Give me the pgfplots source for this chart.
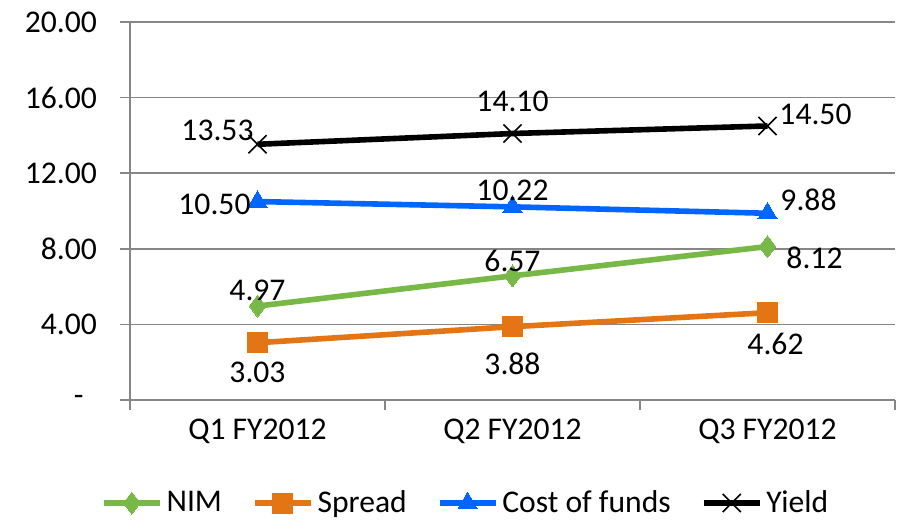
\documentclass[border=0pt]{standalone}
\usepackage{fontspec}
\setmainfont{Carlito}
\usepackage{pgfplots}
\pgfplotsset{compat=1.18}
\definecolor{nimg}{RGB}{119,184,70}
\definecolor{sprd}{RGB}{228,117,20}
\definecolor{cofb}{RGB}{0,102,255}
\definecolor{gridg}{RGB}{134,134,134}
\newcommand{\lf}{\fontsize{15.8}{18.5}\selectfont}
\begin{document}
\begin{tikzpicture}
\begin{axis}[
  name=ax,
  scale only axis,
  width=382.5pt, height=189pt,
  xmin=-0.5, xmax=2.5, ymin=0, ymax=20,
  axis x line*=bottom, axis y line*=left,
  axis line style={gridg, line width=0.75pt, -},
  ytick={0,4,8,12,16,20},
  yticklabels={{\makebox[11.5pt][l]{-}},{4.00},{8.00},{12.00},{16.00},{20.00}},
  ymajorgrids, grid style={gridg, line width=0.75pt},
  tick align=outside, major tick length=5pt,
  tick style={gridg, line width=0.75pt},
  xtick={-0.5,0.5,1.5,2.5}, xticklabels={},
  extra x ticks={0,1,2},
  extra x tick labels={Q1 FY2012,Q2 FY2012,Q3 FY2012},
  extra x tick style={major tick length=0pt, grid=none},
  tick label style={font=\lf},
  /pgf/number format/assume math mode=true,
  yticklabel style={anchor=east, xshift=-8pt},
  xticklabel style={anchor=north, yshift=-6pt},
  visualization depends on={\thisrow{dx} \as \dx},
  visualization depends on={\thisrow{dy} \as \dy},
  nodes near coords={\pgfplotspointmeta},
  point meta=explicit symbolic,
  nodes near coords style={font=\lf, text=black, anchor=center, xshift=\dx*0.5pt, yshift=\dy*0.5pt},
  legend columns=-1,
  legend style={at={(0.44,-0.2725)}, anchor=center, draw=none, font=\lf, inner xsep=0pt,
    /tikz/every even column/.append style={column sep=13pt}},
  legend image code/.code={\draw[mark repeat=2,mark phase=2,#1] plot coordinates {(0pt,0pt) (14pt,0pt) (28pt,0pt)};},
  every axis plot/.append style={line width=2.8pt},
]
\addplot[nimg, mark=diamond*, mark size=5.5pt, mark options={line width=0pt}]
  table[x=x, y=y, meta=lab] {
x y lab dx dy
0 4.97 4.97 0 16
1 6.57 6.57 0 15
2 8.12 8.12 47 -11
};
\addlegendentry{NIM}
\addplot[sprd, mark=square*, mark size=5pt, mark options={line width=0pt}]
  table[x=x, y=y, meta=lab] {
x y lab dx dy
0 3.03 3.03 0 -30
1 3.88 3.88 0 -37
2 4.62 4.62 8 -31
};
\addlegendentry{Spread}
\addplot[cofb, mark=triangle*, mark size=5.5pt, mark options={line width=0pt}]
  table[x=x, y=y, meta=lab] {
x y lab dx dy
0 10.50 10.50 -43 -3
1 10.22 10.22 0 16
2 9.88 9.88 41 13
};
\addlegendentry{Cost of funds}
\addplot[black, mark=x, mark size=6.4pt, mark options={line width=0.8pt}]
  table[x=x, y=y, meta=lab] {
x y lab dx dy
0 13.53 13.53 -40 14
1 14.10 14.10 0 32
2 14.50 14.50 48 12
};
\addlegendentry{Yield}
\end{axis}
\pgfresetboundingbox
\path ([xshift=-65pt, yshift=-60.5pt]ax.south west) rectangle ([xshift=1pt, yshift=11pt]ax.north east);
\end{tikzpicture}
\end{document}
